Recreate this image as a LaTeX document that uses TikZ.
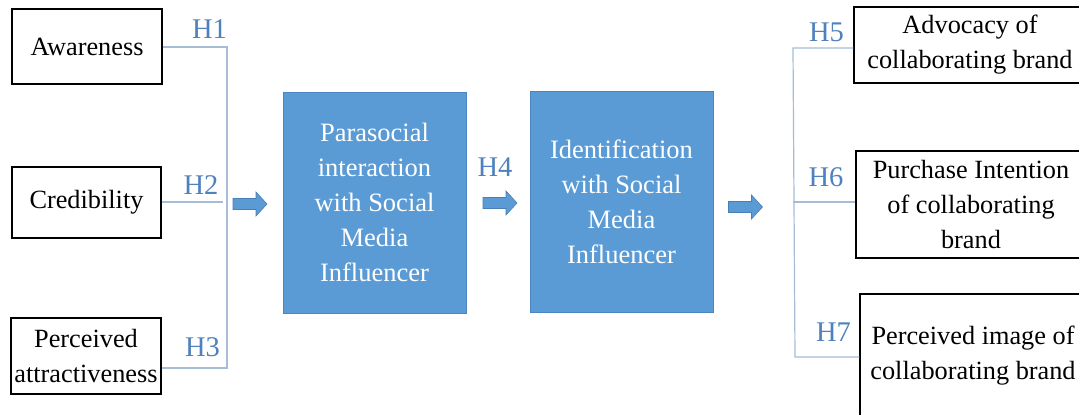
\documentclass[tikz,border=0pt]{standalone}
\usepackage{fontspec}
\setmainfont{Liberation Serif}
\begin{document}
\begin{tikzpicture}[x=1pt,y=-1pt,
  box/.style={draw=black,line width=1.2pt,fill=white,inner sep=0pt,align=center,font=\fontsize{26.3}{35}\selectfont},
  midbox/.style={draw=boxedge,line width=1pt,fill=boxblue,text=white,inner sep=0pt,align=center,minimum width=183pt,minimum height=221pt,font=\fontsize{26.5}{35}\selectfont},
  hlab/.style={text=hblue,inner sep=0pt,font=\fontsize{28.5}{30}\selectfont},
  bline/.style={draw=lineblue,line width=1.2pt},
  blockarr/.pic={\fill[boxblue,draw=arredge,line width=0.6pt] (-17,-5.5) -- (6,-5.5) -- (6,-12) -- (17,0) -- (6,12) -- (6,5.5) -- (-17,5.5) -- cycle;}
]
\definecolor{boxblue}{HTML}{5B9BD5}
\definecolor{boxedge}{HTML}{4A86C2}
\definecolor{arredge}{HTML}{4A7FB5}
\definecolor{hblue}{HTML}{4F81BD}
\definecolor{lineblue}{HTML}{A7BDD6}
\useasboundingbox (0,0) rectangle (1079,415);
\fill[white] (0,0) rectangle (1079,415);

% left boxes
\node[box,minimum width=150pt,minimum height=75pt] (aw) at (87,46.5) {Awareness};
\node[box,minimum width=149pt,minimum height=71pt] (cr) at (86.5,202.5) {Credibility};
\node[box,minimum width=150pt,minimum height=76pt] (pa) at (86,356) {Perceived\\attractiveness};

% left bracket
\coordinate (b1) at (227,47);
\coordinate (b3) at (227,368);
\coordinate (b2) at (223,202);
\draw[bline] (aw.east |- b1) -- (b1) -- (b3) -- (pa.east |- b3);
\draw[bline] (cr.east |- b2) -- (b2);
\node[hlab] (h1) at (209.5,29) {H1};
\node[hlab] (h2) at (201,185) {H2};
\node[hlab] (h3) at (202.5,347) {H3};

% middle
\pic (ar1) at (250,204) {blockarr};
\node[midbox] (ps) at (374.5,202.5) {Parasocial\\interaction\\with Social\\Media\\Influencer};
\node[hlab] (h4) at (495,167) {H4};
\pic (ar2) at (500,203) {blockarr};
\node[midbox] (id) at (621.5,201.5) {Identification\\with Social\\Media\\Influencer};
\pic (ar3) at (745.5,207) {blockarr};

% right boxes
\node[box,minimum width=232pt,minimum height=76pt] (ad) at (970,45) {Advocacy of\\collaborating brand};
\node[box,minimum width=230pt,minimum height=107pt] (pi) at (971,204.5) {Purchase Intention\\of collaborating\\brand};
\node[box,minimum width=226pt,minimum height=124pt] (pe) at (973,356) {Perceived image of\\collaborating brand};

% right bracket
\coordinate (r1) at (793,48);
\coordinate (r2) at (793,202);
\coordinate (r3) at (795,357);
\draw[bline] (ad.west |- r1) -- (r1) -- (r3) -- (pe.west |- r3);
\draw[bline] (r2) -- (pi.west |- r2);
\node[hlab] (h5) at (826.5,32) {H5};
\node[hlab] (h6) at (826,177) {H6};
\node[hlab] (h7) at (833.5,332) {H7};
\end{tikzpicture}
\end{document}
